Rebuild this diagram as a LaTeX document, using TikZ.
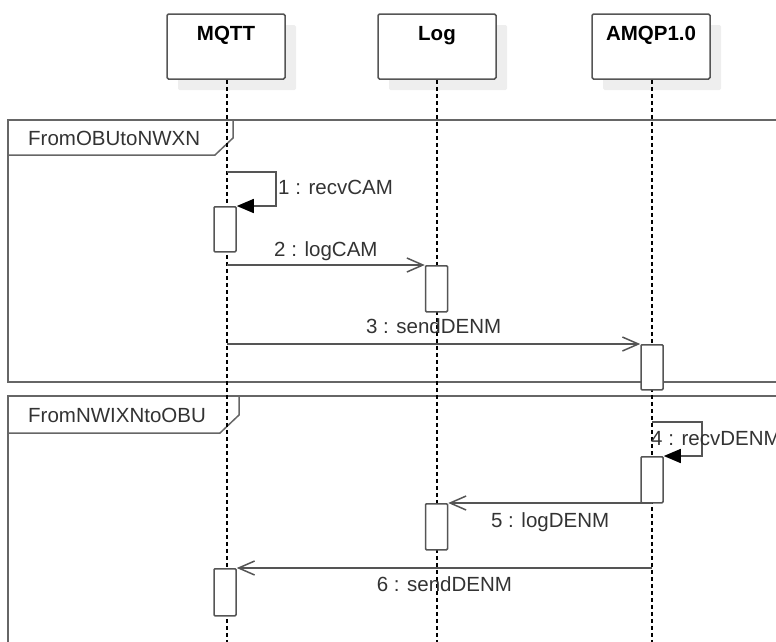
\documentclass[tikz,border=0pt]{standalone}
\usepackage{fontspec}
\setmainfont{Liberation Sans}
\usetikzlibrary{arrows.meta,shadows}
\definecolor{linec}{HTML}{555555}
\definecolor{framec}{HTML}{666666}
\definecolor{shadowc}{HTML}{EEEEEE}
\definecolor{textc}{HTML}{333333}
\begin{document}
\begin{tikzpicture}[x=1pt,y=-1pt,
  txt/.style={font=\fontsize{20.5}{24}\selectfont, text=textc, inner sep=0pt},
  head/.style={draw=linec, line width=1.5pt, fill=white, rounded corners=1.5pt,
    minimum width=118pt, minimum height=65pt, inner sep=0pt,
    drop shadow={shadow xshift=11pt, shadow yshift=-11pt, fill=shadowc, opacity=1}},
  headtext/.style={font=\fontsize{20.5}{24}\selectfont\bfseries, text=black, inner sep=0pt, anchor=north, yshift=-13pt},
  lifeline/.style={draw=black, line width=1.2pt, dash pattern=on 4pt off 3pt},
  actbox/.style={draw=linec, line width=1.5pt, fill=white, rounded corners=1pt,
    minimum width=22pt, inner sep=0pt, anchor=north},
  frameline/.style={draw=framec, line width=1.5pt},
  msg/.style={draw=linec, line width=1.5pt, -{Straight Barb[length=16pt,width=14pt]}},
  selfmsg/.style={draw=linec, line width=1.5pt, -{Triangle[length=17pt,width=14pt,fill=black,color=black]}},
]
\useasboundingbox (0,0) rectangle (776,641);
\clip (0,0) rectangle (776,641);

% frames
\draw[frameline] (8,120) rectangle (800,382);
\draw[frameline] (8,120) -- (233,120) -- (233,138) -- (215,155) -- (8,155);
\node[txt, anchor=base west] (f1) at (28,145) {FromOBUtoNWXN};
\draw[frameline] (8,396) rectangle (800,700);
\draw[frameline] (8,396) -- (239,396) -- (239,415) -- (220,433) -- (8,433);
\node[txt, anchor=base west] (f2) at (28,422) {FromNWIXNtoOBU};

% heads
\node[head, label={[headtext]north:MQTT}] (mqtt) at (226,46.5) {};
\node[head, label={[headtext]north:Log}] (log) at (437,46.5) {};
\node[head, label={[headtext]north:AMQP1.0}] (amqp) at (651,46.5) {};

% lifelines
\coordinate (e1) at (227,650);
\coordinate (e2) at (437,650);
\coordinate (e3) at (652,650);
\draw[lifeline] (mqtt.south -| e1) -- (e1);
\draw[lifeline] (log.south -| e2) -- (e2);
\draw[lifeline] (amqp.south -| e3) -- (e3);

% activations
\node[actbox, minimum height=45pt] (a1) at (225,206) {};
\node[actbox, minimum height=46pt] (a2) at (436.5,265) {};
\node[actbox, minimum height=45pt] (a3) at (652,344) {};
\node[actbox, minimum height=46pt] (a4) at (652,456) {};
\node[actbox, minimum height=46pt] (a5) at (436.5,503) {};
\node[actbox, minimum height=47pt] (a6) at (225,568) {};

% messages
\coordinate (s1) at (227,172);
\draw[selfmsg] (s1) -- (276,172) |- (a1.north east);
\node[txt, anchor=base west] (l1) at (278,194) {1 : recvCAM};

\draw[msg] (e1 |- a2.north) -- node[txt, anchor=base, yshift=9pt] (l2) {2 : logCAM} (a2.north west);
\draw[msg] (e1 |- a3.north) -- node[txt, anchor=base, yshift=11pt] (l3) {3 : sendDENM} (a3.north west);

\coordinate (s4) at (652,422);
\draw[selfmsg] (s4) -- (702,422) |- (a4.north east);
\node[txt, anchor=base west] (l4) at (651,445) {4 : recvDENM};

\draw[msg] (e3 |- a5.north) -- node[txt, anchor=base, yshift=-24pt] (l5) {5 : logDENM} (a5.north east);
\draw[msg] (e3 |- a6.north) -- node[txt, anchor=base, yshift=-23pt] (l6) {6 : sendDENM} (a6.north east);
\end{tikzpicture}
\end{document}
